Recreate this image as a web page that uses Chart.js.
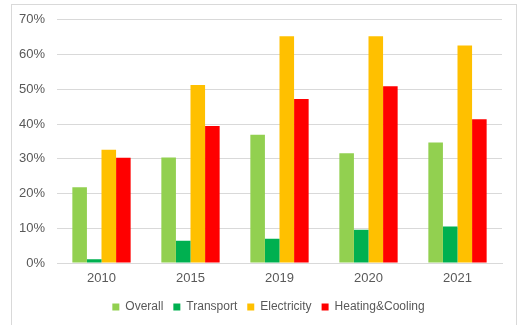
<!DOCTYPE html>
<html>
<head>
<meta charset="utf-8">
<script src="https://cdn.jsdelivr.net/npm/chart.js@4"></script>
<style>
  html, body { margin: 0; padding: 0; background: #ffffff; }
  #wrap { position: relative; width: 522px; height: 325px; overflow: hidden; }
  #frame { position: absolute; left: 11px; top: 4px; width: 506px; height: 340px;
           border: 1px solid #d9d9d9; border-bottom: none; box-sizing: border-box; }
  canvas { position: absolute; left: 0; top: 0; }
</style>
</head>
<body>
<div id="wrap">
  <div id="frame"></div>
  <canvas id="c" width="522" height="325"></canvas>
</div>
<script>
// Share of renewables by sector (%)
const years = ['2010', '2015', '2019', '2020', '2021'];
const overall = [21.8, 30.4, 36.9, 31.6, 34.7];
const transport = [1.1, 6.4, 7.0, 9.6, 10.5];
const electricity = [32.6, 51.2, 65.3, 65.3, 62.6];
const heatingCooling = [30.3, 39.4, 47.2, 50.9, 41.4];
const yTicks = [0, 10, 20, 30, 40, 50, 60, 70];

const tickFont = { family: "'Liberation Sans', Arial, sans-serif", size: 13 };
const legendFont = { family: "'Liberation Sans', Arial, sans-serif", size: 12 };
const grey = '#595959';

function series(label, data, color) {
  return { label, data, backgroundColor: color, borderWidth: 0,
           barPercentage: 1.0, categoryPercentage: 0.655 };
}

// Nudge the legend row a little to the right of the canvas centre
const legendShift = {
  id: 'legendShift',
  afterLayout(chart) {
    if (chart.legend) { chart.legend.left += 12; chart.legend.right += 12; }
  }
};

new Chart(document.getElementById('c'), {
  type: 'bar',
  data: {
    labels: years,
    datasets: [
      series('Overall', overall, '#92D050'),
      series('Transport', transport, '#00B050'),
      series('Electricity', electricity, '#FFC000'),
      series('Heating&Cooling', heatingCooling, '#FF0000')
    ]
  },
  plugins: [legendShift],
  options: {
    responsive: false,
    animation: false,
    devicePixelRatio: 1,
    layout: { padding: { left: 11, right: 20, top: 19, bottom: 2 } },
    plugins: {
      tooltip: { enabled: false },
      legend: {
        position: 'bottom',
        labels: { boxWidth: 7, boxHeight: 7, padding: 10, color: grey, font: legendFont }
      }
    },
    scales: {
      x: {
        grid: { display: false, drawTicks: false },
        border: { display: true, color: '#d9d9d9', width: 1 },
        ticks: { color: grey, font: tickFont, padding: 8 },
        afterFit: (s) => { s.height = 28; }
      },
      y: {
        min: 0, max: 70,
        afterBuildTicks: (s) => { s.ticks = yTicks.map(v => ({ value: v })); },
        grid: { color: '#d9d9d9', lineWidth: 1, drawTicks: false },
        border: { display: false },
        ticks: { color: grey, font: tickFont, padding: 12, callback: (v) => v + '%' },
        afterFit: (s) => { s.width = 46; }
      }
    }
  }
});
</script>
</body>
</html>
